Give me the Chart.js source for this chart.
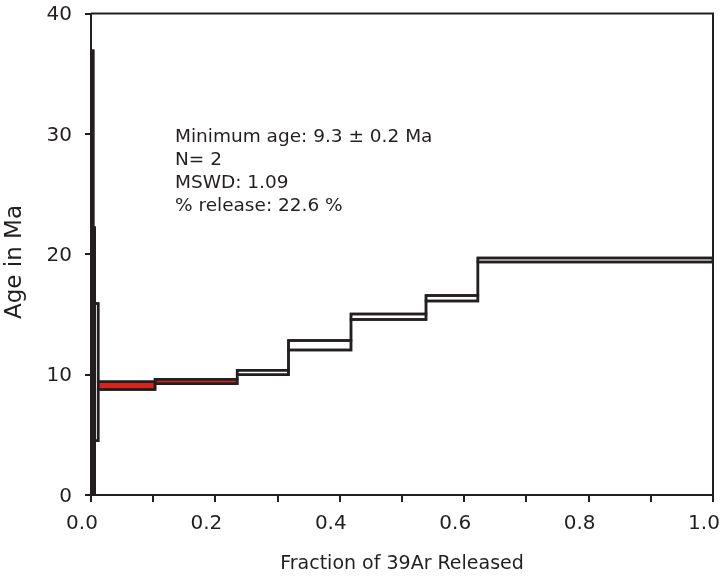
<!DOCTYPE html>
<html>
<head>
<meta charset="utf-8">
<script src="https://cdn.jsdelivr.net/npm/chart.js@4.4.1/dist/chart.umd.min.js"></script>
<style>
  body { margin: 0; background: #fff; }
  canvas { display: block; }
</style>
</head>
<body>
<canvas id="spectrum" width="727" height="586"></canvas>
<script>
// Step-heating data: cumulative 39Ar fraction edges, apparent age and 1-sigma error per step
const stepEdges = [0, 0.0035, 0.006, 0.0115, 0.103, 0.235, 0.3175, 0.418, 0.5386, 0.622, 1.0];
const stepAges = [17.0, 10.0, 10.2, 9.085, 9.43, 10.175, 12.44, 14.81, 16.34, 19.52];
const stepErrors = [19.9, 12.2, 5.7, 0.33, 0.18, 0.19, 0.40, 0.23, 0.23, 0.17];
// Steps used for the minimum age (filled red)
const minAgeSteps = [3, 4];

const xTickLabels = ['0.0', '0.2', '0.4', '0.6', '0.8', '1.0'];
const yTickLabels = ['0', '10', '20', '30', '40'];

const infoLines = [
    'Minimum age: 9.3 \u00b1 0.2 Ma',
    'N= 2',
    'MSWD: 1.09',
    '% release: 22.6 %'
];

const INK = '#231f20';
const RED = '#d8261d';

const lineStyle = {
    borderColor: INK,
    borderWidth: 2.5,
    borderJoinStyle: 'miter',
    borderCapStyle: 'square',
    pointRadius: 0,
    pointHoverRadius: 0,
    fill: false,
    order: 0
};

// Upper (age + err) and lower (age - err) staircases of the spectrum
const lastStep = stepAges.length - 1;
const upperLine = [{x: stepEdges[0], y: stepAges[0] - stepErrors[0]}];
const lowerLine = [];
const datasets = [];
stepAges.forEach((age, i) => {
    const x0 = stepEdges[i];
    const x1 = stepEdges[i + 1];
    const lo = age - stepErrors[i];
    const hi = age + stepErrors[i];
    upperLine.push({x: x0, y: hi}, {x: x1, y: hi});
    lowerLine.push({x: x0, y: lo}, {x: x1, y: lo});
    // each step also gets its own closed box
    datasets.push(Object.assign({
        data: [{x: x0, y: lo}, {x: x0, y: hi}, {x: x1, y: hi}, {x: x1, y: lo}, {x: x0, y: lo}]
    }, lineStyle));
    if (minAgeSteps.includes(i)) {
        datasets.push({
            data: [{x: x0, y: hi}, {x: x1, y: hi}],
            borderWidth: 0,
            pointRadius: 0,
            pointHoverRadius: 0,
            backgroundColor: RED,
            fill: {value: lo},
            order: 1
        });
    }
});
upperLine.push({x: stepEdges[lastStep + 1], y: stepAges[lastStep] - stepErrors[lastStep]});
datasets.push(Object.assign({data: upperLine}, lineStyle));
datasets.push(Object.assign({data: lowerLine}, lineStyle));

// Frame, y title and the info text block
const extrasPlugin = {
    id: 'extras',
    afterDraw(chart) {
        const {ctx, chartArea, scales} = chart;
        ctx.save();
        ctx.strokeStyle = INK;
        ctx.lineWidth = 2;
        ctx.beginPath();
        ctx.moveTo(chartArea.left, chartArea.top);
        ctx.lineTo(chartArea.right, chartArea.top);
        ctx.lineTo(chartArea.right, chartArea.bottom);
        ctx.stroke();

        ctx.fillStyle = INK;
        ctx.font = '18.5px "DejaVu Sans"';
        ctx.textAlign = 'left';
        ctx.textBaseline = 'alphabetic';
        const tx = scales.x.getPixelForValue(0.135);
        const ty = scales.y.getPixelForValue(29.35);
        infoLines.forEach((line, i) => ctx.fillText(line, tx, ty + i * 23.2));

        ctx.translate(15, 262);
        ctx.rotate(-Math.PI / 2);
        ctx.font = '23px "DejaVu Sans"';
        ctx.textAlign = 'center';
        ctx.textBaseline = 'middle';
        ctx.fillText('Age in Ma', 0, 0);
        ctx.restore();
    }
};

new Chart(document.getElementById('spectrum').getContext('2d'), {
    type: 'line',
    data: {datasets},
    options: {
        responsive: false,
        animation: false,
        events: [],
        layout: {padding: {left: 0, right: 14, top: 13.5, bottom: 0}},
        plugins: {
            legend: {display: false},
            tooltip: {enabled: false}
        },
        scales: {
            x: {
                type: 'linear',
                min: 0,
                max: 1,
                afterFit(scale) {
                    scale.height = 91;
                    scale.paddingLeft = 0;
                    scale.paddingRight = 0;
                },
                border: {display: true, color: INK, width: 2},
                grid: {drawOnChartArea: false, drawTicks: true, tickLength: 7, color: INK, lineWidth: 2},
                ticks: {
                    stepSize: 0.1,
                    autoSkip: false,
                    maxRotation: 0,
                    color: INK,
                    padding: 10,
                    labelOffset: -9,
                    font: {family: 'DejaVu Sans', size: 20},
                    callback: (value, index) => index % 2 === 0 ? xTickLabels[index / 2] : ''
                },
                title: {
                    display: true,
                    text: 'Fraction of 39Ar Released',
                    color: INK,
                    font: {family: 'DejaVu Sans', size: 19},
                    padding: {top: 0, bottom: 11}
                }
            },
            y: {
                min: 0,
                max: 40,
                afterFit(scale) {
                    scale.width = 91;
                    scale.paddingTop = 0;
                    scale.paddingBottom = 0;
                },
                border: {display: true, color: INK, width: 2},
                grid: {drawOnChartArea: false, drawTicks: true, tickLength: 6, color: INK, lineWidth: 2},
                ticks: {
                    stepSize: 10,
                    color: INK,
                    padding: 13,
                    labelOffset: 1.5,
                    font: {family: 'DejaVu Sans', size: 20},
                    callback: (value, index) => yTickLabels[index]
                }
            }
        }
    },
    plugins: [extrasPlugin]
});
</script>
</body>
</html>
